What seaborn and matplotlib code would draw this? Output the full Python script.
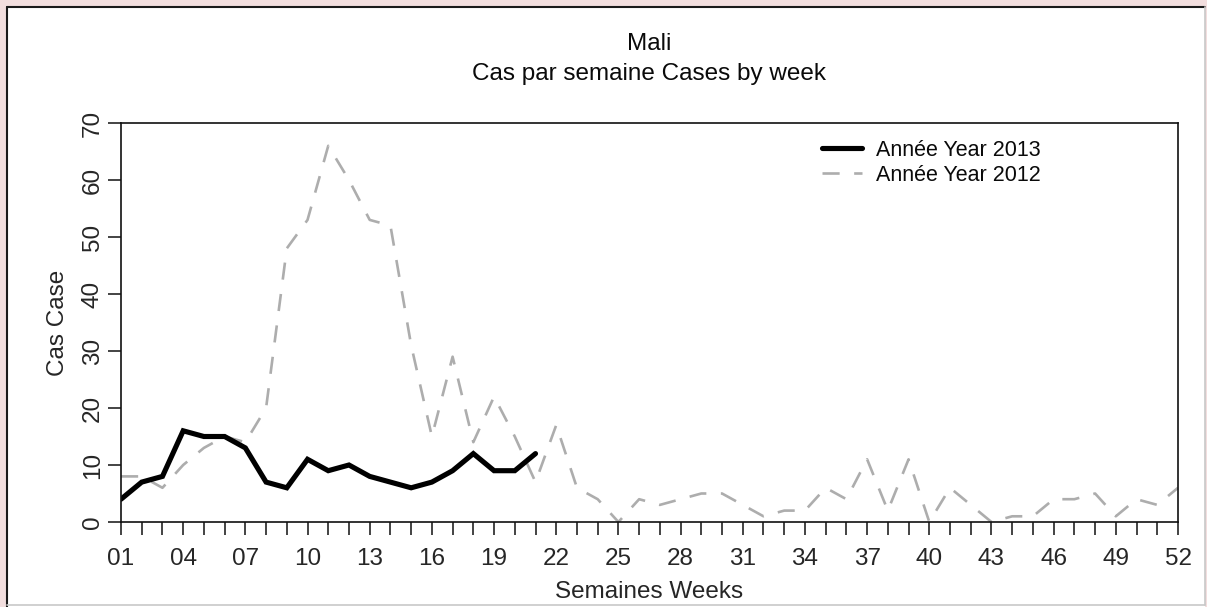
import pandas as pd
import seaborn as sns
import matplotlib.pyplot as plt
from matplotlib.lines import Line2D
from matplotlib.patches import Rectangle

# weekly cases
weeks_2013 = list(range(1, 22))
cases_2013 = [4, 7, 8, 16, 15, 15, 13, 7, 6, 11, 9, 10, 8, 7, 6, 7, 9, 12, 9, 9, 12]

weeks_2012 = list(range(1, 53))
cases_2012 = [8, 8, 6, 10, 13, 15, 14, 20, 48, 53,
              66, 60, 53, 52, 31, 15, 29, 14, 22, 15,
              7, 17, 6, 4, 0, 4, 3, 4, 5, 5,
              3, 1, 2, 2, 6, 4, 11, 2, 11, 0,
              6, 3, 0, 1, 1, 4, 4, 5, 1, 4,
              3, 6]

xtick_pos = [1, 4, 7, 10, 13, 16, 19, 22, 25, 28, 31, 34, 37, 40, 43, 46, 49, 52]
xtick_labels = ["01", "04", "07", "10", "13", "16", "19", "22", "25",
                "28", "31", "34", "37", "40", "43", "46", "49", "52"]
ytick_pos = [0, 10, 20, 30, 40, 50, 60, 70]

label_2013 = "Année Year 2013"
label_2012 = "Année Year 2012"

df12 = pd.DataFrame({"week": weeks_2012, "cases": cases_2012})
df13 = pd.DataFrame({"week": weeks_2013, "cases": cases_2013})

sns.set_theme(style="ticks")
plt.rcParams["font.family"] = ["Liberation Sans", "DejaVu Sans"]
plt.rcParams["text.color"] = "#0a0a0a"

W, H = 1207, 607
fig = plt.figure(figsize=(W / 100, H / 100), dpi=100, facecolor="#F2DEDE")

# white inset panel with a bevelled border
fig.patches.append(Rectangle((7 / W, 0), (1205 - 7) / W, (607 - 7) / H,
                             transform=fig.transFigure, facecolor="white",
                             edgecolor="none", zorder=-10))
fig.lines.append(Line2D([7 / W, 1205 / W], [1 - 7 / H, 1 - 7 / H], transform=fig.transFigure,
                        color="#1a1a1a", lw=1.5, zorder=-5))
fig.lines.append(Line2D([7 / W, 7 / W], [1 - 7 / H, 0], transform=fig.transFigure,
                        color="#1a1a1a", lw=1.5, zorder=-5))
fig.lines.append(Line2D([7 / W, 1205 / W], [1 - 605 / H, 1 - 605 / H], transform=fig.transFigure,
                        color="#c8c8c8", lw=1.2, zorder=-5))
fig.lines.append(Line2D([1205 / W, 1205 / W], [1 - 7 / H, 1 - 605 / H], transform=fig.transFigure,
                        color="#c8c8c8", lw=1.2, zorder=-5))

ax = fig.add_axes([121 / W, 1 - 522 / H, (1178 - 121) / W, (522 - 123) / H])
ax.set_facecolor("white")

sns.lineplot(data=df12, x="week", y="cases", ax=ax, color="#adadad", lw=1.9,
             linestyle=(0, (6.5, 5.5)), errorbar=None)
sns.lineplot(data=df13, x="week", y="cases", ax=ax, color="black", lw=3.7,
             errorbar=None, solid_joinstyle="miter")

ax.set_xlim(1, 52)
ax.set_ylim(0, 70)
ax.set_xticks(xtick_pos)
ax.set_xticklabels(xtick_labels)
ax.set_xticks(weeks_2012, minor=True)
ax.set_yticks(ytick_pos)
ax.set_yticklabels([str(v) for v in ytick_pos], rotation=90, va="center")

ax.tick_params(which="both", direction="out", length=9.5, width=1.1, color="#111111")
ax.tick_params(axis="x", labelsize=17.5, pad=9)
ax.tick_params(axis="y", labelsize=17.5, pad=3)
for s in ax.spines.values():
    s.set_visible(True)
    s.set_linewidth(1.2)
    s.set_color("#111111")

ax.set_title("Mali\nCas par semaine Cases by week", fontsize=17.5, pad=31, linespacing=1.45)
ax.set_xlabel("Semaines Weeks", fontsize=17.5, labelpad=8)
ax.set_ylabel("Cas Case", fontsize=17.5, labelpad=9)

lines = ax.get_lines()
ax.legend([lines[1], lines[0]], [label_2013, label_2012], loc="upper left",
          bbox_to_anchor=(0.663, 0.958), frameon=False, fontsize=15.5,
          handlelength=1.85, handletextpad=0.65, labelspacing=0.18,
          borderpad=0, borderaxespad=0)

fig.savefig("out.png", dpi=100, facecolor=fig.get_facecolor())
